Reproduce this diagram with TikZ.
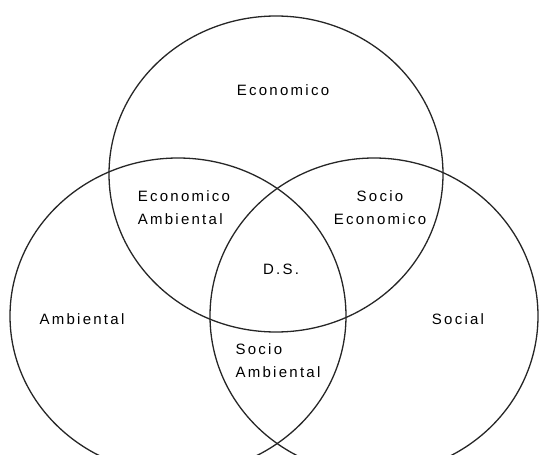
\documentclass[tikz,border=0pt]{standalone}
\usepackage{fontspec}
\setmainfont{Liberation Sans}[LetterSpace=15]
\begin{document}
\begin{tikzpicture}[x=1pt,y=-1pt,
  set/.style={draw=black!85,line width=1.3pt},
  lbl/.style={font=\fontsize{15}{23}\selectfont,inner sep=0pt}]
\useasboundingbox (0,0) rectangle (539,455);
\begin{scope}
\clip (0,0) rectangle (539,455);
\draw[set] (276,174) ellipse [x radius=167,y radius=158];
\draw[set] (178,316) ellipse [x radius=168,y radius=158];
\draw[set] (374,316) ellipse [x radius=164,y radius=158];
\end{scope}
\node[lbl] (eco) at (283,90) {Economico};
\node[lbl,align=left] (ecoamb) at (184,208) {Economico\\Ambiental};
\node[lbl,align=center] (socioeco) at (380,208) {Socio\\Economico};
\node[lbl] (ds) at (281,269) {D.S.};
\node[lbl] (amb) at (82,319) {Ambiental};
\node[lbl] (soc) at (458,319) {Social};
\node[lbl,align=left] (socamb) at (278,361) {Socio\\Ambiental};
\end{tikzpicture}
\end{document}
